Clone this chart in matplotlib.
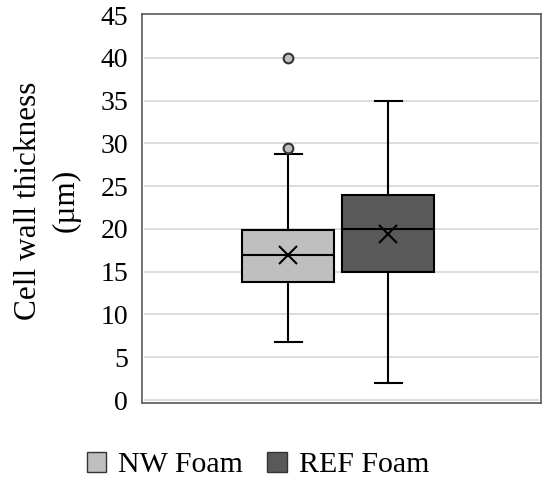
import matplotlib.pyplot as plt
from matplotlib.patches import Patch

plt.rcParams['font.family'] = ['Liberation Serif', 'DejaVu Serif']

# box statistics (um)
groups = ['NW Foam', 'REF Foam']
q1 = [13.8, 15.0]
medians = [16.9, 20.0]
q3 = [19.9, 24.0]
means = [17.0, 19.4]
whislo = [6.8, 2.0]
whishi = [28.7, 35.0]
fliers = [[29.5, 40.0], []]
colors = ['#bfbfbf', '#595959']

stats = []
for i, g in enumerate(groups):
    stats.append(dict(label=g, q1=q1[i], med=medians[i], q3=q3[i], mean=means[i],
                      whislo=whislo[i], whishi=whishi[i], fliers=fliers[i]))

fig = plt.figure(figsize=(5.5, 4.88), dpi=100)
ax = fig.add_axes([142 / 550, 1 - 403 / 488, 399 / 550, 389 / 488])

ax.set_ylim(-0.35, 45.12)
ax.set_xlim(-0.46, 3.53)
ax.set_yticks(range(0, 46, 5))
for y in range(0, 46, 5):
    if y < 45:
        ax.axhline(y, xmin=0.008, xmax=0.992, color='#d9d9d9', lw=1.3, zorder=0)

bp = ax.bxp(stats, positions=[1, 2], widths=0.92, showmeans=True, patch_artist=True,
            capwidths=0.27,
            boxprops=dict(edgecolor='black', linewidth=1.5),
            medianprops=dict(color='black', linewidth=1.5),
            whiskerprops=dict(color='black', linewidth=1.5),
            capprops=dict(color='black', linewidth=1.5),
            meanprops=dict(marker='x', markeredgecolor='black', markersize=13,
                           markeredgewidth=1.5),
            flierprops=dict(marker='o', markerfacecolor='#bfbfbf', markeredgecolor='#333333',
                            markersize=7, markeredgewidth=1.5))
for patch, c in zip(bp['boxes'], colors):
    patch.set_facecolor(c)

ax.set_xticks([])
for s in ax.spines.values():
    s.set_color('#595959')
    s.set_linewidth(1.2)
ax.tick_params(axis='y', length=0, labelsize=20, pad=10)
ax.set_ylabel('Cell wall thickness\n(\u00b5m)', fontsize=22.5, linespacing=1.35)
ax.yaxis.set_label_coords(-0.155, 0.52)

handles = [Patch(facecolor=c, edgecolor='#333333', label=g) for g, c in zip(groups, colors)]
fig.legend(handles=handles, loc='center', bbox_to_anchor=(258 / 550, 1 - 465 / 488),
           ncol=2, frameon=False, fontsize=21.5, handlelength=0.65, handleheight=0.65,
           handletextpad=0.4, columnspacing=0.8)

fig.savefig('out.png', dpi=100)
